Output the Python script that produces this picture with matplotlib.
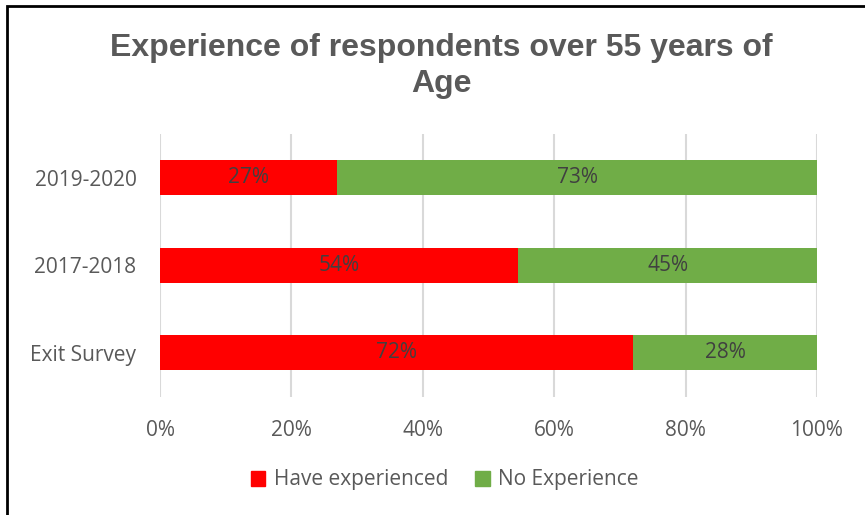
import matplotlib.pyplot as plt
from matplotlib.patches import Patch, Rectangle
import numpy as np

# data (Excel 100% stacked, so rows get normalised)
categories = ["Exit Survey", "2017-2018", "2019-2020"]
have_experienced = [72, 54, 27]
no_experience = [28, 45, 73]
x_ticks = [0, 20, 40, 60, 80, 100]
x_tick_labels = ["0%", "20%", "40%", "60%", "80%", "100%"]

RED = "#FF0000"
GREEN = "#70AD47"
TXT = "#595959"
LBL = "#404040"
FONT = "Open Sans"

have = np.array(have_experienced, dtype=float)
none = np.array(no_experience, dtype=float)
tot = have + none
have_pct = have / tot * 100
none_pct = none / tot * 100

fig = plt.figure(figsize=(8.65, 5.15), dpi=100)
ax = fig.add_axes([0.185, 0.230, 0.7595, 0.510])

y = np.arange(len(categories))
bar_h = 0.4
ax.barh(y, have_pct, height=bar_h, color=RED, zorder=3)
ax.barh(y, none_pct, left=have_pct, height=bar_h, color=GREEN, zorder=3)

for i in range(len(categories)):
    ax.text(have_pct[i] / 2, y[i], f"{have_experienced[i]}%", ha="center", va="center",
            fontsize=15, color=LBL, family=FONT, zorder=4)
    ax.text(have_pct[i] + none_pct[i] / 2, y[i], f"{no_experience[i]}%", ha="center", va="center",
            fontsize=15, color=LBL, family=FONT, zorder=4)

ax.set_xlim(0, 100)
ax.set_ylim(-0.5, len(categories) - 0.5)
ax.set_xticks(x_ticks)
ax.set_xticklabels(x_tick_labels, family=FONT, fontsize=15, color=TXT)
ax.set_yticks(y)
ax.set_yticklabels(categories, family=FONT, fontsize=15, color=TXT)
ax.tick_params(axis="x", length=0, pad=17)
ax.tick_params(axis="y", length=0, pad=17)
ax.grid(axis="x", color="#D9D9D9", linewidth=1.5, zorder=0)
for s in ax.spines.values():
    s.set_visible(False)

fig.text(0.51, 1 - 66 / 515, "Experience of respondents over 55 years of\nAge",
         ha="center", va="center", fontsize=23, fontweight="bold", color=TXT,
         family="Liberation Sans", linespacing=1.3)

handles = [Patch(color=RED, label="Have experienced"), Patch(color=GREEN, label="No Experience")]
fig.legend(handles=handles, loc="center", bbox_to_anchor=(0.514, 1 - 480 / 515), ncol=2,
           frameon=False, prop={"family": FONT, "size": 15}, labelcolor=TXT,
           handlelength=0.7, handleheight=0.7, handletextpad=0.4, columnspacing=1.3)

# chart border (only left and top edges are visible in the crop)
fig.add_artist(Rectangle((7 / 865, -0.2), 1.2, 1.2 - 6 / 515, transform=fig.transFigure,
                         fill=False, edgecolor="black", linewidth=2))

fig.savefig("out.png", dpi=100)
